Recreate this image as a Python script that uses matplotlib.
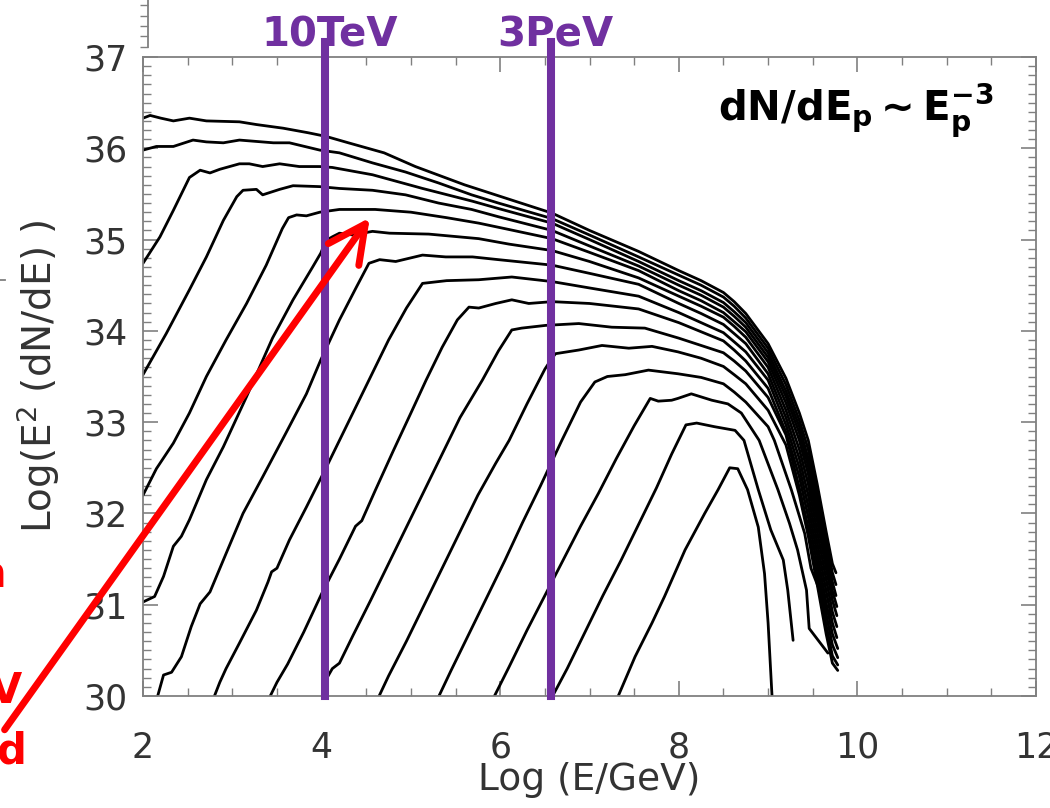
import matplotlib
matplotlib.use("Agg")
import matplotlib.pyplot as plt
from matplotlib.ticker import MultipleLocator
from matplotlib.lines import Line2D

# gamma-ray spectra, one list of (log E, log E^2 dN/dE) per curve
c01 = [(2.0, 36.33), (2.08, 36.36), (2.2, 36.33), (2.34, 36.30), (2.52, 36.33), (2.71, 36.30), (3.08, 36.29),
       (3.27, 36.26), (3.57, 36.22), (3.85, 36.17), (4.05, 36.13), (4.3, 36.06), (4.7, 35.95), (5.05, 35.80),
       (5.6, 35.60), (6.2, 35.41), (6.58, 35.29), (7.0, 35.10), (7.55, 34.87), (8.0, 34.66), (8.25, 34.55),
       (8.5, 34.42), (8.62, 34.32), (8.75, 34.19), (9.0, 33.86), (9.2, 33.48), (9.35, 33.10), (9.45, 32.80),
       (9.55, 32.32), (9.65, 31.80), (9.72, 31.45), (9.76, 31.35)]
c02 = [(2.0, 35.98), (2.15, 36.02), (2.34, 36.02), (2.56, 36.09), (2.71, 36.07), (2.9, 36.06), (3.08, 36.09),
       (3.46, 36.06), (3.64, 36.06), (3.98, 35.98), (4.2, 35.95), (4.57, 35.84), (4.94, 35.74), (5.31, 35.62),
       (5.68, 35.49), (5.98, 35.40), (6.58, 35.23), (7.0, 35.05), (7.55, 34.81), (8.0, 34.61), (8.25, 34.50),
       (8.5, 34.37), (8.62, 34.27), (8.75, 34.14), (9.0, 33.81), (9.2, 33.41), (9.35, 33.02), (9.45, 32.70),
       (9.55, 32.22), (9.65, 31.70), (9.72, 31.35), (9.76, 31.22)]
c03 = [(2.0, 34.74), (2.19, 35.03), (2.34, 35.32), (2.52, 35.68), (2.64, 35.76), (2.75, 35.73), (2.86, 35.77),
       (3.08, 35.83), (3.19, 35.83), (3.34, 35.80), (3.53, 35.83), (3.75, 35.80), (3.98, 35.80), (4.12, 35.79),
       (4.57, 35.71), (5.13, 35.56), (5.69, 35.42), (5.98, 35.34), (6.58, 35.18), (7.0, 35.00), (7.55, 34.76),
       (8.0, 34.55), (8.25, 34.44), (8.5, 34.31), (8.62, 34.21), (8.75, 34.09), (9.0, 33.76), (9.2, 33.34),
       (9.35, 32.95), (9.45, 32.60), (9.55, 32.12), (9.65, 31.60), (9.72, 31.25), (9.76, 31.10)]
c04 = [(2.0, 33.52), (2.26, 33.97), (2.52, 34.45), (2.71, 34.81), (2.90, 35.21), (3.05, 35.47), (3.12, 35.54),
       (3.27, 35.55), (3.34, 35.49), (3.53, 35.55), (3.68, 35.59), (3.98, 35.58), (4.2, 35.56), (4.57, 35.54),
       (4.94, 35.49), (5.31, 35.40), (5.68, 35.33), (5.98, 35.25), (6.58, 35.10), (7.0, 34.93), (7.55, 34.71),
       (8.0, 34.50), (8.25, 34.39), (8.5, 34.26), (8.62, 34.16), (8.75, 34.04), (9.0, 33.71), (9.2, 33.28),
       (9.35, 32.88), (9.45, 32.52), (9.55, 32.02), (9.65, 31.50), (9.72, 31.15), (9.77, 30.98)]
c05 = [(2.0, 32.20), (2.15, 32.49), (2.34, 32.77), (2.52, 33.10), (2.71, 33.50), (2.93, 33.90), (3.16, 34.30),
       (3.38, 34.72), (3.56, 35.12), (3.63, 35.24), (3.72, 35.27), (3.83, 35.26), (3.98, 35.30), (4.2, 35.33),
       (4.6, 35.33), (5.0, 35.30), (5.4, 35.24), (5.76, 35.18), (6.1, 35.11), (6.58, 35.01), (7.0, 34.86),
       (7.55, 34.66), (8.0, 34.44), (8.25, 34.33), (8.5, 34.20), (8.62, 34.10), (8.75, 33.99), (9.0, 33.66),
       (9.2, 33.21), (9.35, 32.80), (9.45, 32.43), (9.55, 31.92), (9.65, 31.40), (9.72, 31.05), (9.77, 30.88)]
c06 = [(2.0, 31.03), (2.13, 31.09), (2.23, 31.31), (2.34, 31.64), (2.43, 31.75), (2.52, 31.93), (2.71, 32.37),
       (2.90, 32.73), (3.16, 33.28), (3.45, 33.92), (3.68, 34.34), (3.90, 34.70), (3.99, 34.85), (4.05, 34.99),
       (4.12, 35.03), (4.2, 35.07), (4.35, 35.05), (4.57, 35.09), (4.76, 35.07), (5.2, 35.06), (5.76, 35.01),
       (6.1, 34.95), (6.58, 34.88), (7.0, 34.76), (7.55, 34.58), (8.0, 34.38), (8.25, 34.27), (8.5, 34.15),
       (8.62, 34.05), (8.75, 33.93), (9.0, 33.60), (9.2, 33.13), (9.35, 32.70), (9.45, 32.32), (9.55, 31.80),
       (9.65, 31.28), (9.72, 30.92), (9.77, 30.76)]
c07 = [(2.15, 29.95), (2.23, 30.23), (2.32, 30.26), (2.43, 30.43), (2.54, 30.76), (2.64, 31.01), (2.75, 31.14),
       (2.93, 31.56), (3.12, 32.00), (3.34, 32.40), (3.60, 32.88), (3.83, 33.31), (3.99, 33.68), (4.2, 34.12),
       (4.39, 34.48), (4.53, 34.74), (4.65, 34.78), (4.83, 34.76), (5.13, 34.83), (5.39, 34.81), (5.69, 34.81),
       (5.98, 34.78), (6.58, 34.72), (7.0, 34.63), (7.55, 34.51), (8.0, 34.30), (8.25, 34.19), (8.5, 34.07),
       (8.62, 33.97), (8.75, 33.86), (9.0, 33.53), (9.2, 33.05), (9.35, 32.60), (9.45, 32.20), (9.55, 31.68),
       (9.65, 31.15), (9.72, 30.80), (9.77, 30.64)]
c08 = [(2.78, 29.95), (2.86, 30.15), (2.93, 30.30), (3.08, 30.58), (3.27, 30.94), (3.40, 31.25), (3.44, 31.36),
       (3.50, 31.40), (3.64, 31.71), (3.83, 32.07), (4.05, 32.50), (4.3, 33.00), (4.53, 33.46), (4.75, 33.90),
       (4.95, 34.25), (5.13, 34.52), (5.4, 34.55), (5.76, 34.56), (6.13, 34.59), (6.58, 34.54), (7.0, 34.47),
       (7.55, 34.38), (8.0, 34.20), (8.25, 34.09), (8.5, 33.98), (8.62, 33.88), (8.75, 33.77), (9.0, 33.46),
       (9.2, 32.97), (9.35, 32.50), (9.45, 32.08), (9.55, 31.56), (9.65, 31.02), (9.72, 30.68), (9.78, 30.52)]
c09 = [(3.40, 29.95), (3.50, 30.15), (3.62, 30.35), (3.80, 30.70), (4.0, 31.12), (4.2, 31.50), (4.38, 31.86),
       (4.45, 31.92), (4.6, 32.25), (4.8, 32.68), (5.0, 33.10), (5.17, 33.46), (5.35, 33.82), (5.52, 34.12),
       (5.65, 34.26), (5.76, 34.25), (5.95, 34.30), (6.13, 34.34), (6.32, 34.30), (6.58, 34.32), (7.0, 34.30),
       (7.55, 34.24), (8.0, 34.09), (8.25, 33.99), (8.5, 33.89), (8.62, 33.79), (8.75, 33.67), (9.0, 33.37),
       (9.2, 32.89), (9.35, 32.40), (9.45, 31.96), (9.55, 31.44), (9.65, 30.90), (9.72, 30.56), (9.78, 30.42)]
c10 = [(4.0, 29.95), (4.05, 30.18), (4.12, 30.30), (4.2, 30.36), (4.35, 30.66), (4.55, 31.05), (4.75, 31.45),
       (4.95, 31.85), (5.15, 32.25), (5.35, 32.65), (5.55, 33.05), (5.8, 33.46), (5.98, 33.78), (6.13, 34.01),
       (6.24, 34.03), (6.51, 34.06), (6.88, 34.08), (7.25, 34.04), (7.62, 34.03), (8.0, 33.92), (8.25, 33.84),
       (8.5, 33.76), (8.62, 33.67), (8.75, 33.56), (9.0, 33.27), (9.2, 32.86), (9.35, 32.28), (9.45, 31.84),
       (9.55, 31.32), (9.65, 30.78), (9.72, 30.44), (9.78, 30.34)]
c11 = [(4.62, 29.95), (4.75, 30.22), (4.95, 30.60), (5.15, 31.00), (5.35, 31.40), (5.55, 31.80), (5.75, 32.20),
       (5.95, 32.55), (6.1, 32.80), (6.3, 33.20), (6.5, 33.58), (6.58, 33.70), (6.62, 33.75), (6.88, 33.79),
       (7.14, 33.84), (7.44, 33.81), (7.7, 33.83), (7.99, 33.77), (8.25, 33.70), (8.5, 33.61), (8.62, 33.52),
       (8.75, 33.42), (9.0, 33.13), (9.2, 32.75), (9.35, 32.20), (9.45, 31.75), (9.55, 31.22), (9.65, 30.68),
       (9.72, 30.36), (9.78, 30.28)]
c12 = [(5.29, 29.95), (5.45, 30.28), (5.65, 30.68), (5.85, 31.08), (6.05, 31.48), (6.25, 31.90), (6.45, 32.30),
       (6.69, 32.80), (6.9, 33.22), (7.06, 33.44), (7.2, 33.50), (7.4, 33.52), (7.66, 33.57), (7.99, 33.53),
       (8.25, 33.49), (8.5, 33.42), (8.62, 33.33), (8.75, 33.22), (9.0, 32.95), (9.07, 32.80), (9.26, 32.26),
       (9.41, 31.78), (9.48, 31.40), (9.69, 30.87)]
c13 = [(5.91, 29.95), (6.1, 30.32), (6.3, 30.72), (6.5, 31.10), (6.7, 31.48), (6.9, 31.86), (7.1, 32.22),
       (7.3, 32.60), (7.5, 32.96), (7.68, 33.26), (7.77, 33.23), (7.92, 33.24), (7.99, 33.26), (8.14, 33.31),
       (8.37, 33.24), (8.55, 33.20), (8.7, 33.10), (8.9, 32.80), (9.11, 32.26), (9.24, 31.89), (9.33, 31.60),
       (9.43, 31.16), (9.46, 30.74), (9.67, 30.47)]
c14 = [(6.56, 29.95), (6.75, 30.30), (6.95, 30.70), (7.15, 31.10), (7.35, 31.48), (7.55, 31.88), (7.75, 32.28),
       (7.92, 32.65), (8.08, 32.97), (8.2, 32.99), (8.4, 32.95), (8.63, 32.91), (8.73, 32.80), (8.89, 32.26),
       (9.03, 31.82), (9.17, 31.49), (9.22, 31.16), (9.28, 30.61)]
c15 = [(7.30, 29.95), (7.51, 30.43), (7.70, 30.80), (7.84, 31.09), (8.07, 31.60), (8.29, 32.00), (8.44, 32.26),
       (8.57, 32.50), (8.66, 32.49), (8.77, 32.26), (8.89, 31.85), (8.96, 31.34), (9.0, 30.80), (9.04, 30.07),
       (9.05, 29.90)]
curves = [c01, c02, c03, c04, c05, c06, c07, c08, c09, c10, c11, c12, c13, c14, c15]

# marked energies (log E/GeV) and their labels
mark_x = [4.04, 6.565]
mark_labels = ["10TeV", "3PeV"]

purple = "#7030A0"
grey = "#808080"
txt = "#333333"

fig = plt.figure(figsize=(10.5, 8.08), dpi=100)
ax = fig.add_axes([143 / 1050, 112 / 808, 893 / 1050, 639 / 808])

for c in curves:
    xs = [p[0] for p in c]
    ys = [p[1] for p in c]
    ax.plot(xs, ys, color="black", lw=2.0, solid_joinstyle="round", solid_capstyle="round")

for mx, lab in zip(mark_x, mark_labels):
    ax.plot([mx, mx], [30, 37.16], color=purple, lw=5.8, clip_on=False, zorder=5)
    ax.text(mx + 0.05, 37.12, lab, color=purple, fontsize=29, fontweight="bold",
            ha="center", va="baseline")

ax.text(8.44, 36.31, r"$\mathbf{dN/dE}_\mathbf{p}\mathbf{\sim E}_\mathbf{p}^{\mathbf{-3}}$",
        fontsize=29, color="black", ha="left", va="baseline")

ax.set_xlim(2, 12)
ax.set_ylim(30, 37)
ax.xaxis.set_major_locator(MultipleLocator(2))
ax.xaxis.set_minor_locator(MultipleLocator(0.5))
ax.yaxis.set_major_locator(MultipleLocator(1))
ax.yaxis.set_minor_locator(MultipleLocator(0.1))
ax.tick_params(which="both", direction="in", top=True, right=True, colors=grey,
               labelcolor=txt, labelsize=25)
ax.tick_params(which="major", length=11, width=1.2)
ax.tick_params(which="minor", length=6, width=1.0)
for s in ax.spines.values():
    s.set_color(grey)
    s.set_linewidth(1.3)

ax.set_xlabel("Log (E/GeV)", fontsize=27, color=txt, va="top")
ax.xaxis.set_label_coords(0.5, -0.103)
ax.set_ylabel("Log(E$^2$ (dN/dE) )", fontsize=28, color=txt)
ax.yaxis.set_label_coords(-0.091, 0.5)

# red arrow from outside the frame
ax.annotate("", xy=(4.54, 35.24), xytext=(0.45, 29.63),
            arrowprops=dict(arrowstyle="->,head_length=0.9,head_width=0.45", color="red",
                            lw=5, mutation_scale=30, shrinkA=0, shrinkB=0, capstyle="round"),
            annotation_clip=False, zorder=6)

# cut-off red text at the left edge
fig.text(6 / 1050, 1 - 587 / 808, "n", color="red", fontsize=30, fontweight="bold", ha="right", va="baseline")
fig.text(22 / 1050, 1 - 703 / 808, "V", color="red", fontsize=30, fontweight="bold", ha="right", va="baseline")
fig.text(26 / 1050, 1 - 763 / 808, "d", color="red", fontsize=30, fontweight="bold", ha="right", va="baseline")

# stub of the panel above
top = fig.add_axes([148 / 1050, 1 - 47 / 808, 0.002, 47 / 808])
top.set_xlim(0, 1)
top.set_ylim(0, 47)
for k in ["top", "right", "bottom"]:
    top.spines[k].set_visible(False)
top.spines["left"].set_color(grey)
top.spines["left"].set_linewidth(1.3)
top.set_xticks([])
top.set_yticks([0, 11, 21, 31, 42])
top.tick_params(axis="y", direction="out", length=6, width=1.0, colors=grey, labelleft=False)
top.patch.set_alpha(0)

fig.add_artist(Line2D([0, 5 / 1050], [1 - 280 / 808, 1 - 280 / 808], color=grey, lw=1.3))

# label gaps from the frame (ticks point inward)
ax.xaxis.set_tick_params(which="major", pad=25)
ax.yaxis.set_tick_params(which="major", pad=11)

fig.savefig("out.png", dpi=100)
